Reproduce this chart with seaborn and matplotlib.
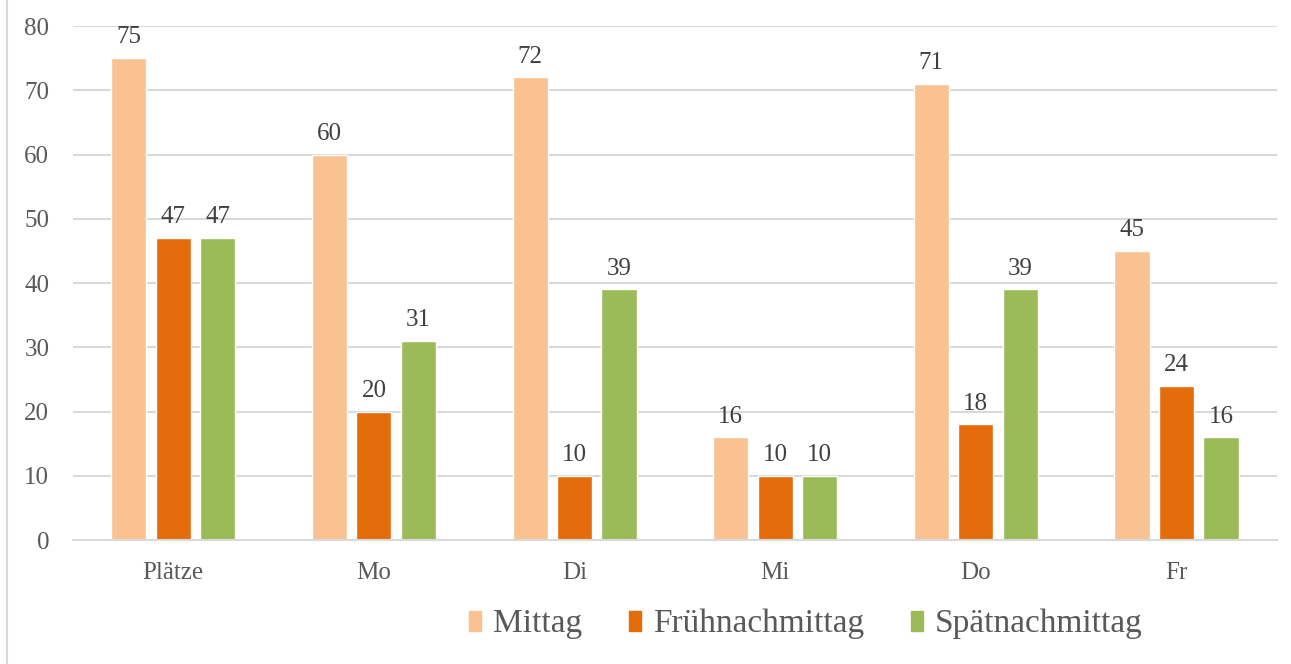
import pandas as pd
import matplotlib.pyplot as plt
import seaborn as sns
from matplotlib.lines import Line2D

# --- Daten ---
kategorien = ['Plätze', 'Mo', 'Di', 'Mi', 'Do', 'Fr']
mittag = [75, 60, 72, 16, 71, 45]
fruehnachmittag = [47, 20, 10, 10, 18, 24]
spaetnachmittag = [47, 31, 39, 10, 39, 16]
serien = ['Mittag', 'Frühnachmittag', 'Spätnachmittag']
farben = ['#F9C290', '#E46C0A', '#9BBB59']

df = pd.DataFrame({
    'tag': kategorien * 3,
    'zeit': [s for s in serien for _ in kategorien],
    'wert': mittag + fruehnachmittag + spaetnachmittag,
})

sns.set_style('white')
plt.rcParams['font.family'] = ['Liberation Serif', 'DejaVu Serif']

fig = plt.figure(figsize=(12.91, 6.64), dpi=100)
ax = fig.add_axes([0.0565, 0.1867, 0.9325, 0.7741])

sns.barplot(data=df, x='tag', y='wert', hue='zeit', order=kategorien,
            hue_order=serien, palette=farben, width=0.665, gap=0.21,
            saturation=1, ax=ax, legend=False)

# Werte über den Balken
for cont in ax.containers:
    ax.bar_label(cont, fmt='%d', padding=7, fontsize=18, color='#404040')

ax.set_ylim(0, 80)
ax.set_xlim(-0.5, 5.5)
ax.set_yticks(range(0, 81, 10))
ax.yaxis.grid(True, color='#D9D9D9', linewidth=1.5)
ax.set_axisbelow(True)
ax.set_xlabel('')
ax.set_ylabel('')
for s in ['top', 'right', 'left']:
    ax.spines[s].set_visible(False)
ax.spines['bottom'].set_color('#D9D9D9')
ax.spines['bottom'].set_linewidth(1.5)
ax.tick_params(axis='y', length=0, pad=17, labelsize=18, labelcolor='#595959')
ax.tick_params(axis='x', length=0, pad=16, labelsize=18, labelcolor='#595959')

# Legende unten
handles = [plt.Rectangle((0, 0), 1, 1, color=c) for c in farben]
fig.legend(handles, serien, loc='center', bbox_to_anchor=(0.624, 0.06),
           ncol=3, frameon=False, fontsize=24, handlelength=0.37,
           handleheight=0.55, handletextpad=0.35, columnspacing=1.4,
           labelcolor='#595959')

# linker Rahmen
fig.add_artist(Line2D([0.0055, 0.0055], [0, 1], transform=fig.transFigure,
                      color='#D9D9D9', linewidth=1.5))

plt.savefig('out.png', dpi=100)
plt.close()
